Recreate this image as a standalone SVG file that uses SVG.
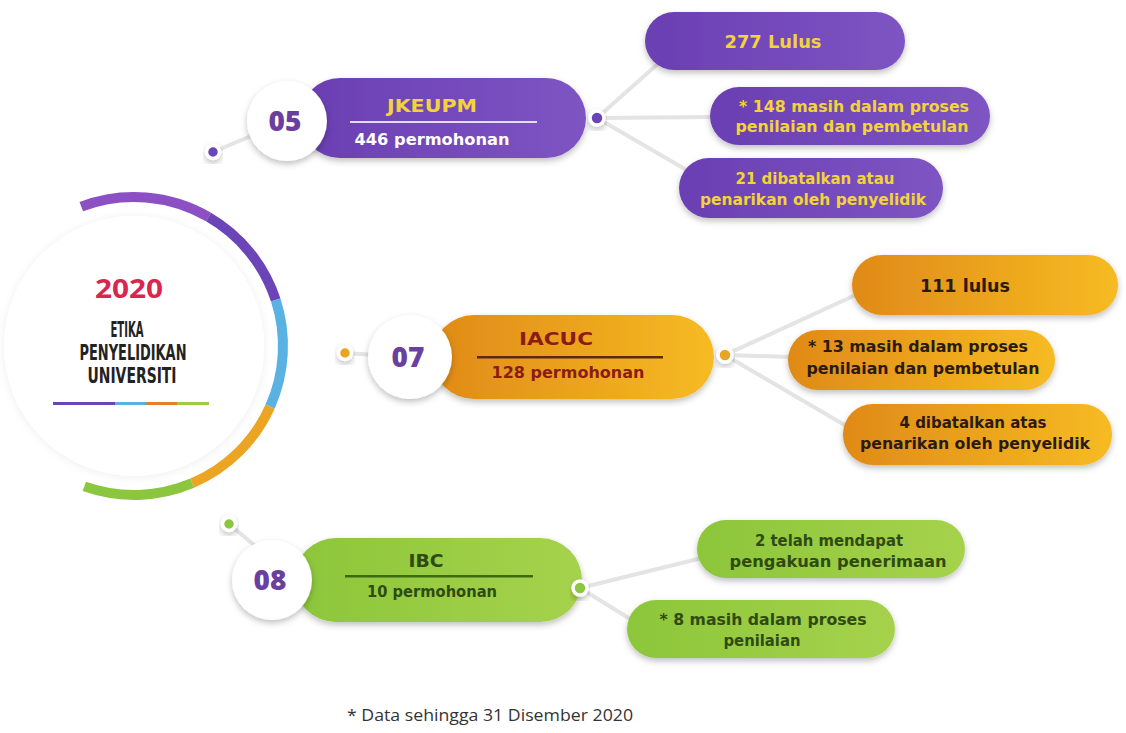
<svg xmlns="http://www.w3.org/2000/svg" width="1126" height="733" viewBox="0 0 1126 733">
<defs>
<filter id="sh" x="-20%" y="-30%" width="140%" height="170%"><feDropShadow dx="0" dy="3" stdDeviation="3" flood-color="#000" flood-opacity="0.25"/></filter>
<filter id="shl" x="-20%" y="-20%" width="140%" height="140%"><feDropShadow dx="0" dy="1" stdDeviation="4" flood-color="#000" flood-opacity="0.07"/></filter>
<linearGradient id="gp" x1="0" y1="0" x2="1" y2="0"><stop offset="0" stop-color="#6a3fb3"/><stop offset="1" stop-color="#7e54c2"/></linearGradient>
<linearGradient id="go" x1="0" y1="0" x2="1" y2="0"><stop offset="0" stop-color="#e08a18"/><stop offset="1" stop-color="#f6bb22"/></linearGradient>
<linearGradient id="gg" x1="0" y1="0" x2="1" y2="0"><stop offset="0" stop-color="#8cc63a"/><stop offset="1" stop-color="#a6d24c"/></linearGradient>
</defs>
<style>
.t{font-family:"DejaVu Sans","Open Sans",sans-serif;font-weight:700;text-anchor:middle}
.num{font-family:"Open Sans","Liberation Sans",sans-serif;font-weight:800;font-size:28px;fill:#6b3fa0;text-anchor:middle}
.conn{stroke:#e4e4e4;stroke-width:4;fill:none;stroke-linecap:round}
.ring{stroke:#fff;stroke-width:3.5}
.yl{fill:#f2d43a}
.wt{fill:#fff}
.dr{fill:#8b1c14}
.dk{fill:#2a1a10}
.dg{fill:#2f4a12}
</style>
<rect width="1126" height="733" fill="#fff"/>

<g id="center">
<circle cx="134" cy="346" r="130" fill="#fff" filter="url(#shl)"/>
<path d="M81.3 206.6 A149 149 0 0 1 208.5 217" stroke="#8d4fc4" stroke-width="10" fill="none"/>
<path d="M208.5 217 A149 149 0 0 1 275.7 300" stroke="#6b45b8" stroke-width="10" fill="none"/>
<path d="M275.7 300 A149 149 0 0 1 270.1 406.6" stroke="#5ab2e2" stroke-width="10" fill="none"/>
<path d="M270.1 406.6 A149 149 0 0 1 192.2 483.2" stroke="#eca522" stroke-width="10" fill="none"/>
<path d="M192.2 483.2 A149 149 0 0 1 84.3 486.4" stroke="#8cc63f" stroke-width="10" fill="none"/>
<text x="129" y="298" font-family="Open Sans,Liberation Sans,sans-serif" font-weight="700" font-size="26" fill="#d8264f" text-anchor="middle" textLength="68" lengthAdjust="spacingAndGlyphs">2020</text>
<g font-family="DejaVu Sans Condensed,Liberation Sans Narrow,sans-serif" font-weight="700" font-size="22" fill="#222" text-anchor="middle">
<text x="127" y="337" textLength="33" lengthAdjust="spacingAndGlyphs">ETIKA</text>
<text x="133" y="360" textLength="107" lengthAdjust="spacingAndGlyphs">PENYELIDIKAN</text>
<text x="132" y="383" textLength="89" lengthAdjust="spacingAndGlyphs">UNIVERSITI</text>
</g>
<rect x="53" y="402" width="62" height="3" fill="#6b45b8"/>
<rect x="115" y="402" width="30" height="3" fill="#5ab2e2"/>
<rect x="145" y="402" width="32" height="3" fill="#e0822a"/>
<rect x="177" y="402" width="32" height="3" fill="#9ccc45"/>
</g>

<g id="connectors">
<line class="conn" x1="213" y1="152" x2="258" y2="133"/>
<line class="conn" x1="597" y1="118" x2="660" y2="62"/>
<line class="conn" x1="597" y1="118" x2="714" y2="117"/>
<line class="conn" x1="597" y1="118" x2="690" y2="172"/>
<line class="conn" x1="345" y1="353" x2="390" y2="356"/>
<line class="conn" x1="725" y1="355" x2="862" y2="292"/>
<line class="conn" x1="725" y1="355" x2="792" y2="357"/>
<line class="conn" x1="725" y1="355" x2="848" y2="427"/>
<line class="conn" x1="229" y1="524" x2="260" y2="550"/>
<line class="conn" x1="580" y1="588" x2="702" y2="558"/>
<line class="conn" x1="580" y1="588" x2="632" y2="620"/>
</g>

<g id="node05">
<rect x="300" y="78" width="286" height="80" rx="40" fill="url(#gp)" filter="url(#sh)"/>
<circle cx="287" cy="121" r="40" fill="#fff" filter="url(#sh)"/>
<text class="num" x="285" y="131">05</text>
<text class="t yl" x="432" y="112" font-size="17" textLength="90" lengthAdjust="spacingAndGlyphs">JKEUPM</text>
<rect x="350" y="121" width="187" height="2" fill="#e6dcf5"/>
<text class="t wt" x="432" y="145" font-size="16" textLength="155" lengthAdjust="spacingAndGlyphs">446 permohonan</text>
<circle cx="213" cy="152" r="6.5" fill="#6b45b8" class="ring" filter="url(#sh)"/>
<circle cx="597" cy="118" r="7" fill="#6b45b8" class="ring" filter="url(#sh)"/>
</g>
<g id="p05a">
<rect x="645" y="12" width="260" height="58" rx="29" fill="url(#gp)" filter="url(#sh)"/>
<text class="t yl" x="773" y="48" font-size="17" textLength="97" lengthAdjust="spacingAndGlyphs">277 Lulus</text>
</g>
<g id="p05b">
<rect x="710" y="87" width="280" height="58" rx="29" fill="url(#gp)" filter="url(#sh)"/>
<text class="t yl" x="854" y="112" font-size="16" textLength="230" lengthAdjust="spacingAndGlyphs">* 148 masih dalam proses</text>
<text class="t yl" x="852" y="132" font-size="16" textLength="233" lengthAdjust="spacingAndGlyphs">penilaian dan pembetulan</text>
</g>
<g id="p05c">
<rect x="679" y="158" width="264" height="60" rx="30" fill="url(#gp)" filter="url(#sh)"/>
<text class="t yl" x="815" y="184" font-size="15" textLength="159" lengthAdjust="spacingAndGlyphs">21 dibatalkan atau</text>
<text class="t yl" x="813" y="205" font-size="15" textLength="226" lengthAdjust="spacingAndGlyphs">penarikan oleh penyelidik</text>
</g>

<g id="node07">
<rect x="432" y="315" width="282" height="84" rx="42" fill="url(#go)" filter="url(#sh)"/>
<circle cx="410" cy="357" r="42" fill="#fff" filter="url(#sh)"/>
<text class="num" x="408" y="367">07</text>
<text class="t dr" x="556" y="345" font-size="17" textLength="74" lengthAdjust="spacingAndGlyphs">IACUC</text>
<rect x="477" y="356" width="186" height="2.5" fill="#5a2a10"/>
<text class="t dr" x="568" y="378" font-size="16" textLength="153" lengthAdjust="spacingAndGlyphs">128 permohonan</text>
<circle cx="345" cy="353" r="6.5" fill="#eba321" class="ring" filter="url(#sh)"/>
<circle cx="725" cy="355" r="7" fill="#eba321" class="ring" filter="url(#sh)"/>
</g>
<g id="p07a">
<rect x="852" y="255" width="266" height="60" rx="30" fill="url(#go)" filter="url(#sh)"/>
<text class="t dk" x="965" y="292" font-size="17" textLength="90" lengthAdjust="spacingAndGlyphs">111  lulus</text>
</g>
<g id="p07b">
<rect x="788" y="330" width="267" height="60" rx="30" fill="url(#go)" filter="url(#sh)"/>
<text class="t dk" x="918" y="352" font-size="16" textLength="220" lengthAdjust="spacingAndGlyphs">* 13 masih dalam proses</text>
<text class="t dk" x="923" y="374" font-size="16" textLength="233" lengthAdjust="spacingAndGlyphs">penilaian dan pembetulan</text>
</g>
<g id="p07c">
<rect x="843" y="404" width="269" height="61" rx="30" fill="url(#go)" filter="url(#sh)"/>
<text class="t dk" x="973" y="428" font-size="15" textLength="147" lengthAdjust="spacingAndGlyphs">4 dibatalkan atas</text>
<text class="t dk" x="975" y="449" font-size="16" textLength="230" lengthAdjust="spacingAndGlyphs">penarikan oleh penyelidik</text>
</g>

<g id="node08">
<rect x="294" y="538" width="288" height="84" rx="42" fill="url(#gg)" filter="url(#sh)"/>
<circle cx="272" cy="580" r="40" fill="#fff" filter="url(#sh)"/>
<text class="num" x="270" y="590">08</text>
<text class="t dg" x="426" y="567" font-size="17" textLength="35" lengthAdjust="spacingAndGlyphs">IBC</text>
<rect x="345" y="575" width="188" height="2.5" fill="#3c6a12"/>
<text class="t dg" x="432" y="597" font-size="15" textLength="130" lengthAdjust="spacingAndGlyphs">10 permohonan</text>
<circle cx="229" cy="524" r="6.5" fill="#8cc63f" class="ring" filter="url(#sh)"/>
<circle cx="580" cy="588" r="7" fill="#8cc63f" class="ring" filter="url(#sh)"/>
</g>
<g id="p08a">
<rect x="697" y="520" width="268" height="58" rx="29" fill="url(#gg)" filter="url(#sh)"/>
<text class="t dg" x="829" y="546" font-size="15" textLength="148" lengthAdjust="spacingAndGlyphs">2 telah mendapat</text>
<text class="t dg" x="838" y="567" font-size="16" textLength="217" lengthAdjust="spacingAndGlyphs">pengakuan penerimaan</text>
</g>
<g id="p08b">
<rect x="627" y="600" width="268" height="58" rx="29" fill="url(#gg)" filter="url(#sh)"/>
<text class="t dg" x="763" y="625" font-size="15" textLength="207" lengthAdjust="spacingAndGlyphs">* 8 masih dalam proses</text>
<text class="t dg" x="762" y="646" font-size="15" textLength="77" lengthAdjust="spacingAndGlyphs">penilaian</text>
</g>

<text x="490" y="721" font-family="Open Sans,Liberation Sans,sans-serif" font-size="17" fill="#333" text-anchor="middle" textLength="286" lengthAdjust="spacingAndGlyphs">* Data sehingga 31 Disember 2020</text>
</svg>
